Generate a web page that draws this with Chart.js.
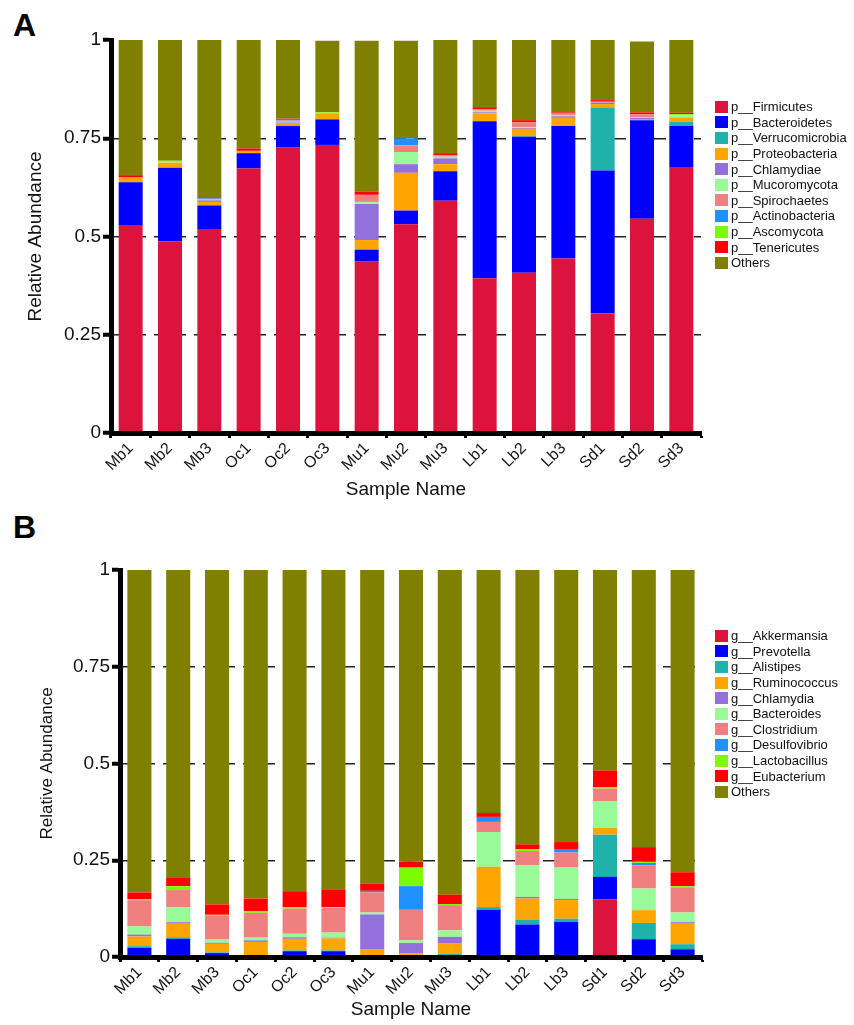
<!DOCTYPE html>
<html>
<head>
<meta charset="utf-8">
<title>Relative abundance</title>
<script src="https://cdn.jsdelivr.net/npm/chart.js@4.4.0/dist/chart.umd.min.js"></script>
<style>
  body {
    margin: 0;
    width: 854px;
    height: 1025px;
    position: relative;
    overflow: hidden;
    background: #fff;
    font-family: "Liberation Sans", Arial, sans-serif;
  }
  canvas { position: absolute; left: 0; }
  #chartA { top: 0; }
  #chartB { top: 505px; }
  .panel { position: absolute; left: 13px; font-weight: bold; font-size: 32px; line-height: 1; color: #000; }
  .legend { position: absolute; left: 715px; font-size: 13px; color: #111; }
  .legend div { height: 15.6px; display: flex; align-items: center; white-space: nowrap; }
  .legend .sw { width: 13px; height: 12px; margin-right: 3px; flex: none; }
</style>
</head>
<body>
<div class="panel" style="top:9px">A</div>
<div class="panel" style="top:511px">B</div>
<canvas id="chartA" width="854" height="505"></canvas>
<canvas id="chartB" width="854" height="520"></canvas>
<div class="legend" id="legendA" style="top:99px"></div>
<div class="legend" id="legendB" style="top:628px"></div>

<script>
// Samples
const samples = ["Mb1", "Mb2", "Mb3", "Oc1", "Oc2", "Oc3", "Mu1", "Mu2", "Mu3", "Lb1", "Lb2", "Lb3", "Sd1", "Sd2", "Sd3"];
const yTicks = [0, 0.25, 0.5, 0.75, 1];

// Panel A - phylum level
const phylumNames = ["p__Firmicutes", "p__Bacteroidetes", "p__Verrucomicrobia", "p__Proteobacteria", "p__Chlamydiae",
  "p__Mucoromycota", "p__Spirochaetes", "p__Actinobacteria", "p__Ascomycota", "p__Tenericutes", "Others"];
const firmicutes      = [0.529, 0.488, 0.519, 0.673, 0.726, 0.733, 0.436, 0.531, 0.591, 0.394, 0.408, 0.444, 0.305, 0.545, 0.675];
const bacteroidetes   = [0.109, 0.187, 0.060, 0.039, 0.055, 0.065, 0.030, 0.035, 0.075, 0.399, 0.346, 0.337, 0.363, 0.251, 0.106];
const verrucomicrobia = [0, 0, 0, 0, 0.002, 0, 0.002, 0, 0, 0, 0.003, 0, 0.160, 0, 0.011];
const proteobacteria  = [0.012, 0.013, 0.009, 0.006, 0.004, 0.014, 0.023, 0.096, 0.018, 0.020, 0.017, 0.021, 0.009, 0.003, 0.011];
const chlamydiae      = [0, 0, 0.004, 0, 0.003, 0, 0.092, 0.022, 0.015, 0.003, 0.002, 0.004, 0.004, 0.003, 0];
const mucoromycota    = [0, 0.002, 0.002, 0, 0.002, 0, 0.005, 0.031, 0.004, 0.004, 0.002, 0.002, 0, 0.002, 0.005];
const spirochaetes    = [0, 0, 0, 0, 0.003, 0, 0.018, 0.017, 0.004, 0.004, 0.013, 0.005, 0.002, 0.007, 0];
const actinobacteria  = [0, 0, 0.003, 0, 0.002, 0, 0, 0.018, 0, 0, 0, 0, 0, 0, 0];
const ascomycota      = [0, 0.003, 0, 0, 0, 0.004, 0, 0, 0, 0, 0, 0, 0, 0, 0.003];
const tenericutes     = [0.006, 0, 0.001, 0.006, 0.003, 0, 0.008, 0, 0.005, 0.005, 0.005, 0.003, 0.004, 0.005, 0.004];
const othersA         = [0.344, 0.307, 0.402, 0.276, 0.200, 0.182, 0.384, 0.248, 0.288, 0.171, 0.204, 0.184, 0.153, 0.180, 0.185];

// Panel B - genus level
const genusNames = ["g__Akkermansia", "g__Prevotella", "g__Alistipes", "g__Ruminococcus", "g__Chlamydia",
  "g__Bacteroides", "g__Clostridium", "g__Desulfovibrio", "g__Lactobacillus", "g__Eubacterium", "Others"];
const akkermansia   = [0, 0, 0, 0, 0, 0, 0, 0, 0, 0, 0, 0, 0.149, 0, 0];
const prevotella    = [0.024, 0.047, 0.010, 0.003, 0.015, 0.015, 0, 0.002, 0.005, 0.122, 0.084, 0.091, 0.058, 0.046, 0.020];
const alistipes     = [0.004, 0.004, 0.002, 0.002, 0.002, 0.002, 0.002, 0, 0.004, 0.007, 0.013, 0.008, 0.109, 0.042, 0.013];
const ruminococcus  = [0.025, 0.035, 0.022, 0.034, 0.030, 0.031, 0.017, 0.008, 0.027, 0.104, 0.054, 0.048, 0.018, 0.033, 0.053];
const chlamydia     = [0.005, 0.004, 0.003, 0.004, 0.004, 0.002, 0.091, 0.026, 0.016, 0, 0.004, 0.003, 0, 0, 0.004];
const bacteroides   = [0.021, 0.038, 0.008, 0.007, 0.009, 0.013, 0.005, 0.007, 0.017, 0.090, 0.082, 0.081, 0.069, 0.056, 0.025];
const clostridium   = [0.068, 0.045, 0.061, 0.064, 0.065, 0.064, 0.052, 0.079, 0.065, 0.026, 0.037, 0.039, 0.032, 0.060, 0.065];
const desulfovibrio = [0, 0, 0, 0, 0, 0, 0.004, 0.061, 0, 0.013, 0, 0.009, 0, 0.006, 0];
const lactobacillus = [0.002, 0.010, 0.003, 0.004, 0.004, 0.002, 0, 0.048, 0.003, 0, 0.004, 0, 0.004, 0.003, 0.003];
const eubacterium   = [0.018, 0.023, 0.027, 0.033, 0.041, 0.046, 0.019, 0.015, 0.024, 0.010, 0.013, 0.018, 0.043, 0.038, 0.036];
const othersB       = [0.833, 0.794, 0.864, 0.849, 0.830, 0.825, 0.810, 0.754, 0.839, 0.628, 0.709, 0.703, 0.518, 0.716, 0.781];

// same palette for both panels
const palette = ["#DC143C", "#0000FF", "#20B2AA", "#FFA500", "#9370DB", "#98FB98",
  "#F08080", "#1E90FF", "#7CFC00", "#FF0000", "#808000"];

const FONT = "'Liberation Sans', Arial, sans-serif";

function buildLegend(el, names) {
  names.forEach((name, i) => {
    const row = document.createElement("div");
    row.innerHTML = `<span class="sw" style="background:${palette[i]}"></span>${name}`;
    el.appendChild(row);
  });
}

function makeChart(canvasId, names, series, geo) {
  const ctx = document.getElementById(canvasId).getContext("2d");
  return new Chart(ctx, {
    type: "bar",
    data: {
      labels: samples,
      datasets: series.map((data, i) => ({
        label: names[i],
        data: data,
        backgroundColor: palette[i],
        borderWidth: 0,
        barPercentage: geo.barPct,
        categoryPercentage: 1.0,
      })),
    },
    options: {
      responsive: false,
      animation: false,
      layout: {
        padding: { left: 0, top: geo.top, right: geo.right, bottom: 0 },
      },
      scales: {
        x: {
          stacked: true,
          afterFit: (scale) => { scale.height = geo.xHeight; },
          grid: {
            display: true,
            drawOnChartArea: false,
            drawTicks: true,
            offset: true,
            tickLength: 5,
            tickWidth: 3,
            tickColor: "#000",
          },
          border: { display: true, color: "#000", width: 5, z: 1 },
          ticks: {
            minRotation: 45,
            maxRotation: 45,
            padding: 1,
            color: "#111",
            font: { family: FONT, size: 16 },
          },
          title: {
            display: true,
            text: "Sample Name",
            color: "#111",
            font: { family: FONT, size: 19 },
            padding: { top: 0, bottom: geo.xTitlePad },
          },
        },
        y: {
          stacked: true,
          min: 0,
          max: 1,
          afterFit: (scale) => { scale.width = geo.left; },
          afterBuildTicks: (scale) => { scale.ticks = yTicks.map((v) => ({ value: v })); },
          grid: {
            color: (c) => (c.tick && c.tick.value > 0 && c.tick.value < 1 ? "#222" : "rgba(0,0,0,0)"),
            lineWidth: 1.5,
            borderDash: [12, 8],
            tickBorderDash: [],
            tickLength: 8,
            tickWidth: 4,
            tickColor: "#000",
          },
          border: { display: true, color: "#000", width: 5, z: 1, dash: [12, 8] },
          ticks: {
            padding: 2,
            color: "#111",
            font: { family: FONT, size: 19 },
            callback: (v) => String(v),
          },
          title: {
            display: true,
            text: "Relative Abundance",
            color: "#111",
            font: { family: FONT, size: geo.yTitleSize },
            padding: { top: geo.yTitlePad, bottom: 0 },
          },
        },
      },
      plugins: {
        legend: { display: false },
        tooltip: { enabled: false },
      },
    },
  });
}

makeChart("chartA", phylumNames,
  [firmicutes, bacteroidetes, verrucomicrobia, proteobacteria, chlamydiae, mucoromycota,
   spirochaetes, actinobacteria, ascomycota, tenericutes, othersA],
  { left: 111, top: 40, right: 153, xHeight: 72, barPct: 0.61, xTitlePad: 4, yTitlePad: 24, yTitleSize: 19 });

makeChart("chartB", genusNames,
  [akkermansia, prevotella, alistipes, ruminococcus, chlamydia, bacteroides,
   clostridium, desulfovibrio, lactobacillus, eubacterium, othersB],
  { left: 120, top: 65, right: 152, xHeight: 68, barPct: 0.62, xTitlePad: 4, yTitlePad: 37, yTitleSize: 17 });

buildLegend(document.getElementById("legendA"), phylumNames);
buildLegend(document.getElementById("legendB"), genusNames);
</script>
</body>
</html>
